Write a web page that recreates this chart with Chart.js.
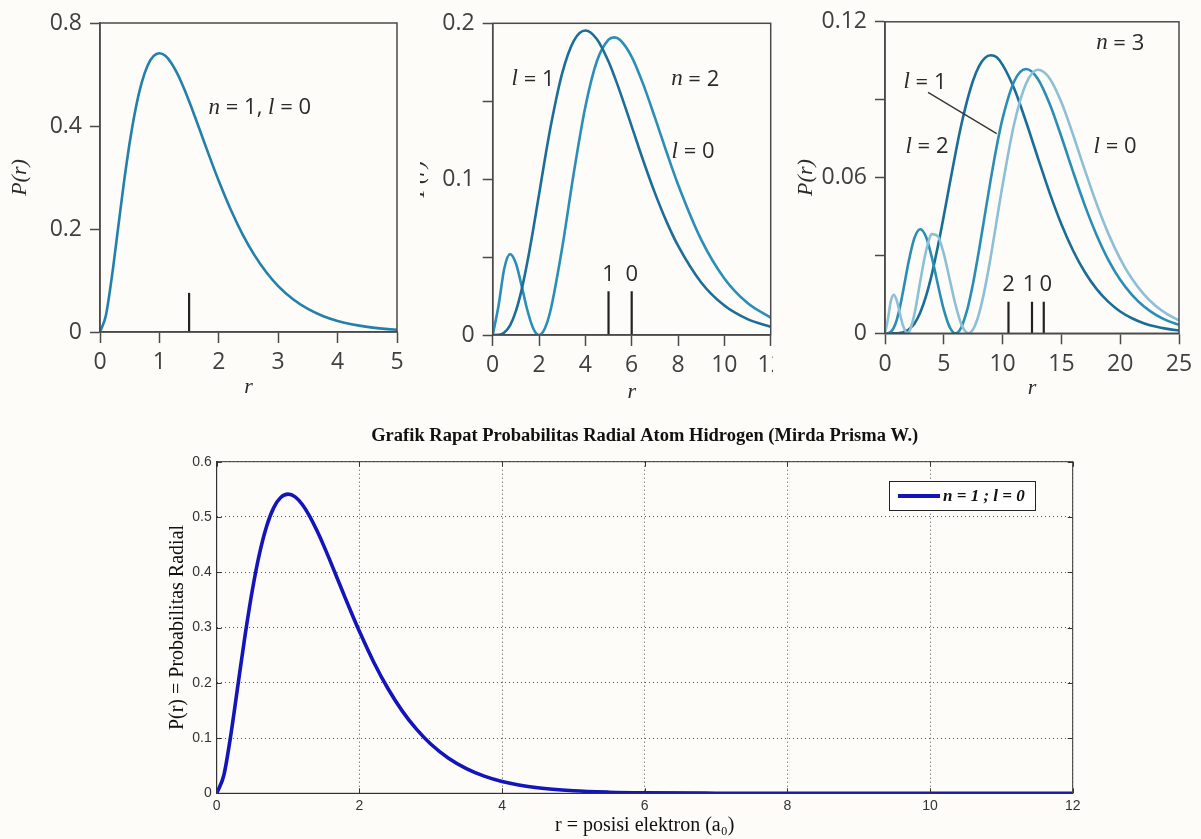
<!DOCTYPE html>
<html>
<head>
<meta charset="utf-8">
<title>Rapat probabilitas radial atom hidrogen</title>
<script src="https://cdn.jsdelivr.net/npm/chart.js@4.4.1/dist/chart.umd.min.js"></script>
<style>
  body { margin: 0; background: #fdfcf8; }
  #wrap { position: relative; width: 1201px; height: 839px; overflow: hidden; }
  canvas { position: absolute; }
</style>
</head>
<body>
<div id="wrap">
  <canvas id="c2" width="390" height="420" style="left:400px;top:0;z-index:1"></canvas>
  <canvas id="c1" width="420" height="420" style="left:0;top:0;z-index:2"></canvas>
  <canvas id="c3" width="428" height="420" style="left:773px;top:0;z-index:2"></canvas>
  <canvas id="c4" width="1201" height="419" style="left:0;top:420px;z-index:1"></canvas>
</div>
<script>
// n = 1, l = 0 (used by the top-left chart and the bottom chart)
const r1 = [0, 0.1, 0.2, 0.3, 0.4, 0.5, 0.6, 0.7, 0.8, 0.9, 1, 1.1, 1.2, 1.3, 1.4, 1.5, 1.6, 1.7, 1.8, 1.9, 2,
  2.2, 2.4, 2.6, 2.8, 3, 3.25, 3.5, 3.75, 4, 4.5, 5, 5.5, 6, 7, 8, 10, 12];
const p10 = [0, 0.0327, 0.1073, 0.1976, 0.2876, 0.3679, 0.4337, 0.4833, 0.5169, 0.5356, 0.5413, 0.5363, 0.5225,
  0.5021, 0.4767, 0.4481, 0.4174, 0.3858, 0.3541, 0.3230, 0.2931,
  0.2377, 0.1896, 0.1492, 0.1160, 0.0892, 0.0635, 0.0447, 0.0311, 0.0215, 0.0100, 0.0045, 0.0020, 0.0009, 0.0002, 0, 0, 0];

// n = 2
const r2 = [0, 0.25, 0.5, 0.75, 1, 1.25, 1.5, 1.75, 2, 2.25, 2.5, 3, 3.5, 4, 4.5, 5, 5.25, 5.5, 6, 6.5, 7, 7.5, 8, 9, 10, 11, 12];
const p20 = [0, 0.0186, 0.0427, 0.0519, 0.0460, 0.0315, 0.0157, 0.0042, 0, 0.0042, 0.0160, 0.0560, 0.1040, 0.1465,
  0.1758, 0.1895, 0.1910, 0.1893, 0.1785, 0.1608, 0.1396, 0.1176, 0.0966, 0.0612, 0.0363, 0.0205, 0.0111];
const p21 = [0, 0.0001, 0.0016, 0.0062, 0.0153, 0.0291, 0.0471, 0.0679, 0.0902, 0.1126, 0.1336, 0.1680, 0.1888, 0.1954,
  0.1898, 0.1755, 0.1661, 0.1558, 0.1339, 0.1118, 0.0912, 0.0729, 0.0573, 0.0337, 0.0189, 0.0102, 0.0053];

// n = 3
const r3 = [0, 0.25, 0.5, 0.75, 1, 1.25, 1.5, 1.9, 2, 2.5, 3, 3.5, 4, 4.5, 5, 5.5, 6, 6.5, 7, 7.1, 7.5, 8, 8.5, 9, 9.5,
  10, 11, 12, 13, 14, 15, 16, 17, 18, 19, 20, 21, 22, 23, 24, 25];
const p30 = [0, 0.0055, 0.0125, 0.0148, 0.0126, 0.0080, 0.0034, 0, 0.0002, 0.0073, 0.0201, 0.0319, 0.0382, 0.0373,
  0.0306, 0.0208, 0.0109, 0.0034, 0.0001, 0, 0.0016, 0.0076, 0.0174, 0.0297, 0.0435,
  0.0571, 0.0810, 0.0962, 0.1015, 0.0982, 0.0890, 0.0764, 0.0628, 0.0498, 0.0383, 0.0287, 0.0210, 0.0151, 0.0106, 0.0074, 0.0050];
const p31 = [0, 0.00004, 0.0006, 0.0022, 0.0052, 0.0097, 0.0153, 0.0251, 0.0274, 0.0367, 0.0401, 0.0370, 0.0289, 0.0187,
  0.0091, 0.0024, 0, 0.0024, 0.0092, 0.0110, 0.0195, 0.0322, 0.0459, 0.0595, 0.0721,
  0.0828, 0.0972, 0.1018, 0.0980, 0.0884, 0.0757, 0.0621, 0.0492, 0.0378, 0.0282, 0.0206, 0.0148, 0.0104, 0.0072, 0.0049, 0.0033];
const p32 = [0, 0, 0, 0, 0.00004, 0.00013, 0.0003, 0.0011, 0.0014, 0.0037, 0.0080, 0.0145, 0.0231, 0.0336,
  0.0453, 0.0575, 0.0695, 0.0805, 0.0899, 0.0916, 0.0975, 0.1029, 0.1061, 0.1071, 0.1063,
  0.1034, 0.0941, 0.0814, 0.0676, 0.0541, 0.0420, 0.0318, 0.0235, 0.0170, 0.0121, 0.0084, 0.0058, 0.0039, 0.0026, 0.0017, 0.0011];

// mean radius markers
const mean1 = [1.5];
const mean2 = [5, 6];
const mean3 = [10.5, 12.5, 13.5];
const meanLabels2 = ['1', '0'];
const meanLabels3 = ['2', '1', '0'];

// tick labels of the top charts
const yTicks1 = ['0', '0.2', '0.4', '0.8'];
const yTicks2 = ['0', '', '0.1', '', '0.2'];
const yTicks3 = ['0', '', '0.06', '', '0.12'];

const BG = '#fdfcf8';
const SERIF = 'Liberation Serif';
const SANS = 'Open Sans';

function pts(xs, ys) {
  return xs.map((x, i) => ({ x: x, y: ys[i] }));
}

function markers(xs, h) {
  const out = [];
  xs.forEach(x => { out.push({ x: x, y: 0 }, { x: x, y: h }, { x: x, y: null }); });
  return out;
}

// text made of runs: [text, italicSerif]
function drawRuns(ctx, runs, cx, cy, size) {
  const fontOf = r => r[1] ? `italic ${size + 1}px "${SERIF}"` : `${size}px "${SANS}"`;
  let w = 0;
  runs.forEach(r => { ctx.font = fontOf(r); w += ctx.measureText(r[0]).width; });
  let x = cx - w / 2;
  ctx.textBaseline = 'middle';
  ctx.textAlign = 'left';
  runs.forEach(r => {
    ctx.font = fontOf(r);
    ctx.fillText(r[0], x, cy);
    x += ctx.measureText(r[0]).width;
  });
}

const notes = {
  id: 'notes',
  beforeDraw(chart) {
    const ctx = chart.ctx;
    ctx.save();
    ctx.fillStyle = BG;
    ctx.fillRect(0, 0, chart.width, chart.height);
    ctx.restore();
  },
  afterDraw(chart, args, o) {
    const { ctx, chartArea: a, scales: { x, y } } = chart;
    ctx.save();
    if (o.frame) {
      ctx.strokeStyle = o.frame.color;
      ctx.lineWidth = o.frame.width;
      ctx.strokeRect(a.left, a.top, a.right - a.left, a.bottom - a.top);
    }
    if (o.innerTicks) {
      const t = o.innerTicks;
      ctx.beginPath();
      x.ticks.forEach(tk => {
        const px = Math.round(x.getPixelForValue(tk.value)) + 0.5;
        ctx.moveTo(px, a.bottom); ctx.lineTo(px, a.bottom - t);
        ctx.moveTo(px, a.top); ctx.lineTo(px, a.top + t);
      });
      y.ticks.forEach(tk => {
        const py = Math.round(y.getPixelForValue(tk.value)) + 0.5;
        ctx.moveTo(a.left, py); ctx.lineTo(a.left + t, py);
        ctx.moveTo(a.right, py); ctx.lineTo(a.right - t, py);
      });
      ctx.strokeStyle = o.frame.color;
      ctx.lineWidth = 1;
      ctx.stroke();
    }
    (o.lines || []).forEach(l => {
      ctx.beginPath();
      ctx.moveTo(x.getPixelForValue(l[0]), y.getPixelForValue(l[1]));
      ctx.lineTo(x.getPixelForValue(l[2]), y.getPixelForValue(l[3]));
      ctx.strokeStyle = '#333';
      ctx.lineWidth = 1.3;
      ctx.stroke();
    });
    ctx.fillStyle = '#2a2a2a';
    (o.texts || []).forEach(t => {
      drawRuns(ctx, t.runs, x.getPixelForValue(t.x) + (t.dx || 0), y.getPixelForValue(t.y) + (t.dy || 0), o.size);
    });
    if (o.legend) {
      const ds = chart.data.datasets[0];
      const L = o.legend;
      const bx = a.right - L.right - L.w, by = a.top + L.top;
      ctx.fillStyle = '#ffffff';
      ctx.fillRect(bx, by, L.w, L.h);
      ctx.strokeStyle = '#222';
      ctx.lineWidth = 1;
      ctx.strokeRect(bx + 0.5, by + 0.5, L.w, L.h);
      ctx.beginPath();
      ctx.moveTo(bx + 9, by + L.h / 2 + 0.5);
      ctx.lineTo(bx + 51, by + L.h / 2 + 0.5);
      ctx.strokeStyle = ds.borderColor;
      ctx.lineWidth = 4;
      ctx.stroke();
      ctx.fillStyle = '#111';
      ctx.font = `italic bold 17px "${SERIF}"`;
      ctx.textBaseline = 'middle';
      ctx.textAlign = 'left';
      ctx.fillText(ds.label, bx + 54, by + L.h / 2 + 1);
    }
    ctx.restore();
  }
};
Chart.register(notes);

const tickFont = { family: SANS, size: 23 };
const titleFont = { family: SERIF, size: 22, style: 'italic' };

function curve(data, color) {
  return { data: data, borderColor: color, borderWidth: 2.6, pointRadius: 0, fill: false, cubicInterpolationMode: 'monotone' };
}
function stick(data) {
  return { data: data, borderColor: '#222', borderWidth: 2.2, pointRadius: 0, fill: false, spanGaps: false };
}

function topChart(id, o) {
  return new Chart(document.getElementById(id), {
    type: 'line',
    data: { datasets: o.datasets },
    options: {
      responsive: false,
      animation: false,
      events: [],
      layout: { padding: { left: 0, top: o.top, right: o.right, bottom: 0 } },
      plugins: {
        legend: { display: false },
        tooltip: { enabled: false },
        notes: { frame: { color: '#4a4a4a', width: 1.5 }, texts: o.texts, lines: o.lines || [], size: 22 }
      },
      scales: {
        x: {
          type: 'linear', min: 0, max: o.xMax,
          ticks: { stepSize: o.xStep, font: tickFont, color: '#404040', padding: 6, maxRotation: 0, autoSkip: false },
          grid: { drawOnChartArea: false, tickLength: 11, tickColor: '#4a4a4a', tickWidth: 1.5 },
          border: { color: '#4a4a4a', width: 1.5 },
          title: { display: true, text: 'r', font: titleFont, color: '#2a2a2a', padding: { top: 0, bottom: o.xTitlePad } },
          afterFit: s => { s.height = o.xHeight; }
        },
        y: {
          min: 0, max: o.yMax,
          ticks: { stepSize: o.yStep, font: tickFont, color: '#404040', padding: 8, autoSkip: false,
            callback: (v, i) => o.yLabels[i] },
          grid: { drawOnChartArea: false, tickLength: 10, tickColor: '#4a4a4a', tickWidth: 1.5 },
          border: { color: '#4a4a4a', width: 1.5 },
          title: { display: true, text: 'P(r)', font: titleFont, color: '#2a2a2a', padding: { top: o.yTitlePad, bottom: 0 } },
          afterFit: s => { s.width = o.yWidth; }
        }
      }
    }
  });
}

const I = 1, R = 0;

topChart('c1', {
  datasets: [curve(pts(r1, p10), '#2280a9'), stick(markers(mean1, 0.076))],
  xMax: 5, xStep: 1, yMax: 0.6, yStep: 0.2, yLabels: yTicks1,
  top: 23, right: 23, xHeight: 88, yWidth: 100, xTitlePad: 20, yTitlePad: 7,
  texts: [{ x: 2.69, y: 0.435, runs: [['n', I], [' = 1, ', R], ['l', I], [' = 0', R]] }]
});

topChart('c2', {
  datasets: [curve(pts(r2, p21), '#1c6e98'), curve(pts(r2, p20), '#2a8eb6'), stick(markers(mean2, 0.028))],
  xMax: 12, xStep: 2, yMax: 0.2, yStep: 0.05, yLabels: yTicks2,
  top: 23.3, right: 19.3, xHeight: 85, yWidth: 92.7, xTitlePad: 15, yTitlePad: 5,
  texts: [
    { x: 1.74, y: 0.164, runs: [['l', I], [' = 1', R]] },
    { x: 8.74, y: 0.164, runs: [['n', I], [' = 2', R]] },
    { x: 8.65, y: 0.1175, runs: [['l', I], [' = 0', R]] }
  ].concat(mean2.map((m, i) => ({ x: m, y: 0.028, dy: -17, runs: [[meanLabels2[i], R]] })))
});

topChart('c3', {
  datasets: [curve(pts(r3, p30), '#8dbfd6'), curve(pts(r3, p31), '#2a8db4'), curve(pts(r3, p32), '#1a6d97'),
    stick(markers(mean3, 0.0122))],
  xMax: 25, xStep: 5, yMax: 0.12, yStep: 0.03, yLabels: yTicks3,
  top: 21.7, right: 22, xHeight: 86.7, yWidth: 112, xTitlePad: 19, yTitlePad: 20,
  lines: [[3.66, 0.0928, 9.5, 0.0769]],
  texts: [
    { x: 20.0, y: 0.1117, runs: [['n', I], [' = 3', R]] },
    { x: 3.4, y: 0.0967, runs: [['l', I], [' = 1', R]] },
    { x: 3.57, y: 0.0718, runs: [['l', I], [' = 2', R]] },
    { x: 19.56, y: 0.0717, runs: [['l', I], [' = 0', R]] }
  ].concat(mean3.map((m, i) => ({ x: m, y: 0.0122, dy: -17, dx: [0, -3, 2][i], runs: [[meanLabels3[i], R]] })))
});

// bottom: MATLAB-style figure
const matFont = { family: 'Liberation Sans', size: 14 };
new Chart(document.getElementById('c4'), {
  type: 'line',
  data: {
    datasets: [{
      label: 'n = 1 ; l = 0', data: pts(r1, p10), borderColor: '#1414bb', borderWidth: 3.6,
      pointRadius: 0, fill: false, cubicInterpolationMode: 'monotone'
    }]
  },
  options: {
    responsive: false,
    animation: false,
    events: [],
    layout: { padding: { left: 0, top: 0, right: 128.3, bottom: 0 } },
    plugins: {
      legend: { display: false },
      tooltip: { enabled: false },
      title: {
        display: true, fullSize: false, color: '#111',
        text: 'Grafik Rapat Probabilitas Radial Atom Hidrogen (Mirda Prisma W.)',
        font: { family: SERIF, size: 18.5, weight: 'bold' },
        padding: { top: 5.5, bottom: 14 }
      },
      notes: { frame: { color: '#333', width: 1 }, innerTicks: 5, legend: { w: 146, h: 29, right: 37.7, top: 19.3 }, size: 15 }
    },
    scales: {
      x: {
        type: 'linear', min: 0, max: 12,
        ticks: { stepSize: 2, font: matFont, color: '#333', padding: 4, maxRotation: 0, autoSkip: false },
        grid: { color: '#555', lineWidth: 1, drawTicks: false },
        border: { color: '#333', dash: [1, 3] },
        title: { display: true, text: 'r = posisi elektron (a₀)', font: { family: SERIF, size: 20 }, color: '#111',
          padding: { top: 0, bottom: 1 } },
        afterFit: s => { s.height = 45.7; }
      },
      y: {
        min: 0, max: 0.6,
        ticks: { stepSize: 0.1, font: matFont, color: '#333', padding: 5, autoSkip: false },
        grid: { color: '#555', lineWidth: 1, drawTicks: false },
        border: { color: '#333', dash: [1, 3] },
        title: { display: true, text: 'P(r) = Probabilitas Radial', font: { family: SERIF, size: 20 }, color: '#111',
          padding: { top: 166, bottom: 0 } },
        afterFit: s => { s.width = 216.7; }
      }
    }
  }
});
</script>
</body>
</html>
